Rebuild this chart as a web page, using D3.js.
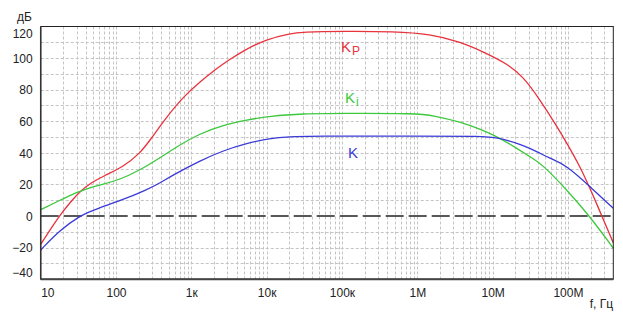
<!DOCTYPE html>
<html>
<head>
<meta charset="utf-8">
<script src="https://cdn.jsdelivr.net/npm/d3@7"></script>
<style>
  html, body { margin: 0; padding: 0; background: #fff; }
  svg { display: block; }
  text { font-family: "Liberation Sans", Arial, sans-serif; }
</style>
</head>
<body>
<svg id="chart" width="623" height="322"></svg>
<script>
// ---- data ----
const kpFreq = [10, 17.5, 25, 33, 45, 70, 125, 208, 283, 471, 783, 1306, 2173, 3100, 5000, 10000, 20000, 30000, 100000, 500000, 1.48e6, 3.7e6, 7.5e6, 1.54e7, 2.56e7, 4.28e7, 7.1e7, 9.7e7, 1.45e8, 1.97e8, 4e8];
const kpDb   = [-18, 0, 9, 15.4, 20.7, 25.5, 31.2, 39.7, 48, 62.8, 75.5, 85, 93.5, 98.5, 105, 112, 115.5, 116.5, 117, 116.8, 115.2, 110.3, 104, 96.6, 88.2, 73.4, 57, 46, 31.2, 17.5, -17];

const kiFreq = [10, 18, 27, 33, 45, 61, 112, 208, 345, 637, 1306, 2660, 5450, 11000, 30000, 100000, 1e6, 1.64e6, 3.7e6, 7.5e6, 1.26e7, 2.1e7, 3.4e7, 4.6e7, 9.7e7, 1.97e8, 4e8];
const kiDb   = [4, 10, 14, 15.5, 18, 19.5, 23, 29.1, 35.4, 43.9, 52.3, 57.6, 60.8, 63.3, 64.8, 65, 65, 63.5, 59.7, 54.4, 49.2, 42.8, 36.5, 32.5, 16.5, -0.4, -20.4];

const kFreq  = [10, 18, 33, 45, 61, 112, 255, 385, 575, 1306, 2660, 5450, 11000, 20000, 40000, 1e6, 7.5e6, 1.13e7, 2.56e7, 4.28e7, 5.5e7, 9.7e7, 1.97e8, 4e8];
const kDb    = [-21.5, -8.9, 0, 2.7, 5.5, 9.5, 16.5, 21, 26, 35, 41.5, 46, 49.2, 50.3, 50.6, 50.6, 50.6, 49.8, 45, 39.7, 37, 32, 18.5, 4.9];

const xTickValues = [10, 100, 1e3, 1e4, 1e5, 1e6, 1e7, 1e8];
const xTickLabels = ["10", "100", "1к", "10к", "100к", "1М", "10М", "100М"];
const yTickValues = [-40, -20, 0, 20, 40, 60, 80, 100, 120];

const seriesNames  = ["Kp", "Ki", "K"];
const labelFreq = [9.7e4, 1.1e5, 1.2e5];
const labelDb   = [104, 71.7, 36.7];

// ---- layout ----
const svg = d3.select("#chart");
const L = 40.7, R = 613.3, T = 26.5, B = 279.2;
const x = d3.scaleLog().domain([10, 4e8]).range([L, R]);
const y = d3.scaleLinear().domain([-40, 120]).range([B, T]);

svg.append("rect").attr("width", 623).attr("height", 322).attr("fill", "#fff");

// grid
const grid = svg.append("g").attr("stroke", "#c4c4c4").attr("stroke-width", 1)
  .attr("stroke-dasharray", "3,2").attr("fill", "none");
const vLines = [];
for (let d = 1; d <= 8; d++) {
  for (let m = 1; m <= 9; m++) {
    const f = m * Math.pow(10, d);
    if (f > 10 && f < 4e8) vLines.push(f);
  }
}
grid.selectAll("line.v").data(vLines).join("line")
  .attr("x1", d => Math.round(x(d)) + 0.5).attr("x2", d => Math.round(x(d)) + 0.5)
  .attr("y1", T).attr("y2", B);
const hLines = d3.range(-30, 120, 10).filter(v => v !== 0);
grid.selectAll("line.h").data(hLines).join("line")
  .attr("x1", L).attr("x2", R)
  .attr("y1", d => Math.round(y(d)) + 0.5).attr("y2", d => Math.round(y(d)) + 0.5);

// zero line
svg.append("line")
  .attr("x1", L).attr("x2", R).attr("y1", y(0)).attr("y2", y(0))
  .attr("stroke", "#222").attr("stroke-width", 1.5).attr("stroke-dasharray", "18,5");

// curves
const line = d3.line().x(d => x(d[0])).y(d => y(d[1])).curve(d3.curveBasis);
const series = [
  { f: kpFreq, v: kpDb, color: "#e8323c" },
  { f: kiFreq, v: kiDb, color: "#3cc83c" },
  { f: kFreq,  v: kDb,  color: "#3a3ad8" }
];
svg.append("clipPath").attr("id", "clip").append("rect")
  .attr("x", L).attr("y", T).attr("width", R - L).attr("height", B - T);
series.forEach(s => {
  svg.append("path")
    .datum(s.f.map((f, i) => [f, s.v[i]]))
    .attr("d", line)
    .attr("fill", "none")
    .attr("stroke", s.color)
    .attr("stroke-width", 1.3)
    .attr("clip-path", "url(#clip)");
});

// frame
svg.append("rect").attr("x", L).attr("y", T).attr("width", R - L).attr("height", B - T)
  .attr("fill", "none").attr("stroke", "#222").attr("stroke-width", 1);
svg.append("line").attr("x1", L).attr("x2", R).attr("y1", B).attr("y2", B)
  .attr("stroke", "#444").attr("stroke-width", 2);
svg.append("line").attr("x1", L).attr("x2", L).attr("y1", T).attr("y2", B)
  .attr("stroke", "#333").attr("stroke-width", 1.5);

// axes labels (ticks)
const yAxis = d3.axisLeft(y).tickValues(yTickValues).tickSize(0).tickPadding(0);
const gy = svg.append("g").attr("transform", `translate(${L},0)`).call(yAxis);
gy.select(".domain").remove();
gy.selectAll("text")
  .attr("x", -8)
  .attr("font-size", 12)
  .attr("fill", "#222")
  .attr("dy", "0.35em")
  .attr("y", d => d === 120 ? 6.5 : (d === -40 ? -7 : 0));

const xAxis = d3.axisBottom(x).tickValues(xTickValues)
  .tickFormat((d, i) => xTickLabels[i]).tickSize(0).tickPadding(0);
const gx = svg.append("g").attr("transform", `translate(0,${B})`).call(xAxis);
gx.select(".domain").remove();
gx.selectAll("text")
  .attr("y", 18).attr("dy", 0)
  .attr("font-size", 12)
  .attr("fill", "#222")
  .attr("text-anchor", d => d === 10 ? "start" : "middle");

// axis titles
svg.append("text").attr("x", 32).attr("y", 21).attr("text-anchor", "end")
  .attr("font-size", 12).attr("fill", "#222").text("дБ");
svg.append("text").attr("x", 613).attr("y", 308).attr("text-anchor", "end")
  .attr("font-size", 12).attr("fill", "#222").text("f, Гц");

// series labels
const labelSubs = ["P", "i", ""];
seriesNames.forEach((n, i) => {
  const t = svg.append("text")
    .attr("x", x(labelFreq[i])).attr("y", y(labelDb[i]))
    .attr("font-size", 15).attr("fill", series[i].color);
  t.append("tspan").text("K");
  if (labelSubs[i]) {
    t.append("tspan").attr("dy", 3).attr("dx", 1).attr("font-size", 12).text(labelSubs[i]);
  }
});
</script>
</body>
</html>
